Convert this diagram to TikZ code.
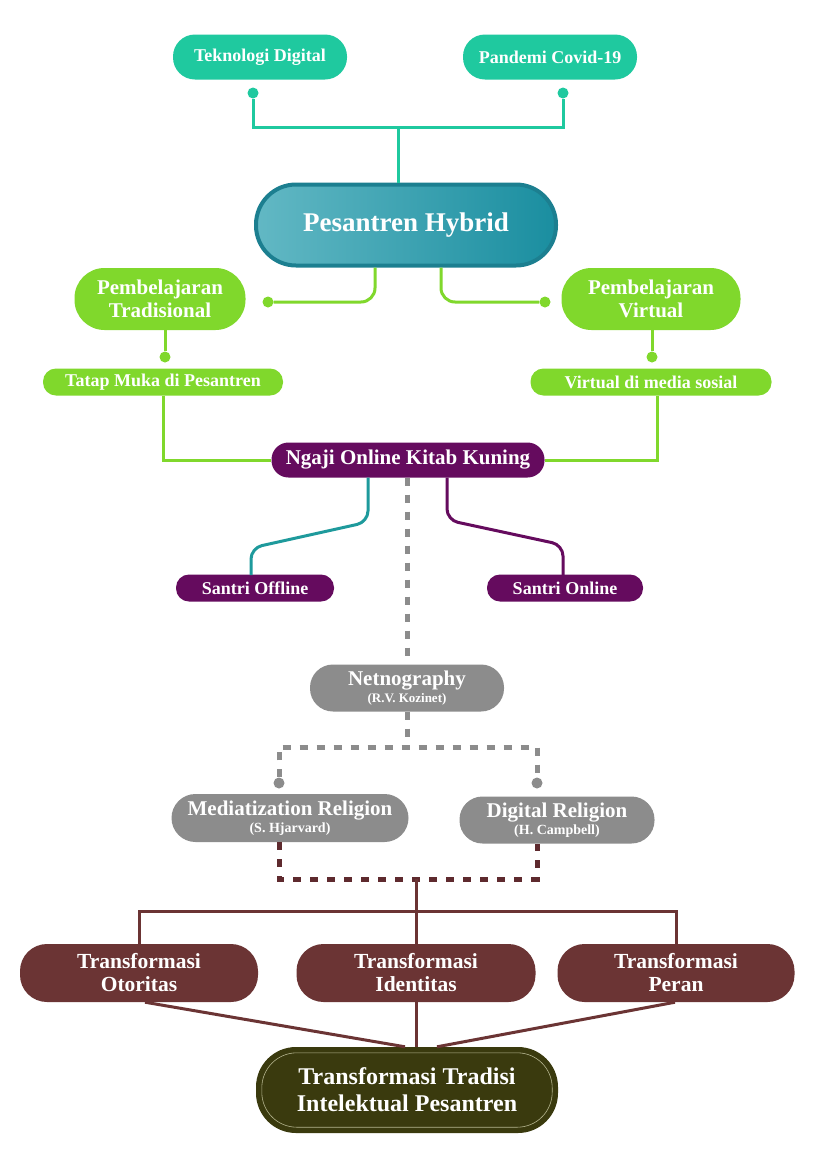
\documentclass[tikz,border=0pt]{standalone}
\usepackage{fontspec}
\setmainfont{Liberation Serif}
\usetikzlibrary{calc}
\definecolor{tealA}{HTML}{1FC99F}
\definecolor{hybL}{HTML}{62B8C4}
\definecolor{hybR}{HTML}{1A8EA0}
\definecolor{hybB}{HTML}{1C7F90}
\definecolor{greenA}{HTML}{80D82C}
\definecolor{purpleA}{HTML}{650B5E}
\definecolor{tealB}{HTML}{1E9A9C}
\definecolor{grayA}{HTML}{8C8C8C}
\definecolor{brownD}{HTML}{5E2A2E}
\definecolor{brownA}{HTML}{6B3434}
\definecolor{oliveA}{HTML}{3A3A0E}
\definecolor{oliveL}{HTML}{B4B48E}
\newcommand{\fsz}[2]{\fontsize{#1}{#2}\selectfont}
\begin{document}
\begin{tikzpicture}[x=1pt,y=-1pt,
  box/.style={inner sep=0pt, align=center, text=white, font=\bfseries},
  dot/.style={circle, inner sep=0pt, minimum size=11pt, fill=#1},
  link/.style={line width=3pt, draw=#1},
  dashlink/.style={line width=5pt, draw=#1, dash pattern=on 8pt off 9pt},
]
\useasboundingbox[fill=white] (0,0) rectangle (812,1157);

% --- causes ---
\node[box, fill=tealA, minimum width=174pt, minimum height=45pt, rounded corners=22pt,
      font=\bfseries\fsz{18}{20}] (tek) at (260,57) {Teknologi Digital};
\node[box, fill=tealA, minimum width=174pt, minimum height=45pt, rounded corners=22pt,
      font=\bfseries\fsz{18}{20}] (pan) at (550,57) {Pandemi Covid-19};
\node[dot=tealA] (dtek) at (253,93) {};
\node[dot=tealA] (dpan) at (563,93) {};
\coordinate (jtop) at (398,127);

% --- hybrid pesantren ---
\node[box, minimum width=300pt, minimum height=81pt, rounded corners=40pt,
      left color=hybL, right color=hybR, draw=hybB, line width=4pt,
      font=\bfseries\fsz{27}{32}] (hyb) at (406,225) {Pesantren Hybrid};

\draw[link=tealA] (dtek) |- (jtop) -| (dpan);
\draw[link=tealA] (jtop) -- (hyb.north -| jtop);

% --- learning modes ---
\node[box, fill=greenA, minimum width=171pt, minimum height=62pt, rounded corners=30pt,
      font=\bfseries\fsz{21}{23}] (ptr) at (160,299) {Pembelajaran\\Tradisional};
\node[box, fill=greenA, minimum width=179pt, minimum height=62pt, rounded corners=30pt,
      font=\bfseries\fsz{21}{23}] (pvi) at (651,299) {Pembelajaran\\Virtual};
\node[dot=greenA] (dptr) at (268,302) {};
\node[dot=greenA] (dpvi) at (545,302) {};
\draw[link=greenA, rounded corners=14pt] ([xshift=-31pt]hyb.south) |- (dptr);
\draw[link=greenA, rounded corners=14pt] ([xshift=35pt]hyb.south) |- (dpvi);

\node[dot=greenA] (dtm) at (165,357) {};
\node[dot=greenA] (dvm) at (652,357) {};
\draw[link=greenA] (dtm) -- (dtm |- ptr.south);
\draw[link=greenA] (dvm) -- (dvm |- pvi.south);

\node[box, fill=greenA, minimum width=240pt, minimum height=27pt, rounded corners=13pt,
      font=\bfseries\fsz{18}{20}] (tm) at (163,382) {Tatap Muka di Pesantren};
\node[box, fill=greenA, minimum width=241pt, minimum height=27pt, rounded corners=13pt,
      font=\bfseries\fsz{18}{20}] (vm) at (651,382) {Virtual di media sosial};

% --- online kitab study ---
\node[box, fill=purpleA, minimum width=273pt, minimum height=35pt, rounded corners=17pt,
      font=\bfseries\fsz{21}{23}] (ng) at (408,460) {Ngaji Online Kitab Kuning};
\draw[link=greenA] (tm.south) |- (ng.west);
\draw[link=greenA] ([xshift=6pt]vm.south) |- (ng.east);

\node[box, fill=purpleA, minimum width=158pt, minimum height=27pt, rounded corners=13pt,
      font=\bfseries\fsz{18}{20}] (so) at (255,588) {Santri Offline};
\node[box, fill=purpleA, minimum width=156pt, minimum height=27pt, rounded corners=13pt,
      font=\bfseries\fsz{18}{20}] (son) at (565,588) {Santri Online};
\draw[link=tealB, rounded corners=11pt] ([xshift=-40pt]ng.south) -- (368,522) -- (251,548) -- (251,575);
\draw[link=purpleA, rounded corners=11pt] ([xshift=39pt]ng.south) -- (447,520) -- (563,545) -- (563,575);

% --- theoretical frame ---
\node[box, fill=grayA, minimum width=194pt, minimum height=47pt, rounded corners=23pt,
      font=\bfseries\fsz{21}{21}] (net) at (407,688)
      {Netnography\\[-4pt]{\fsz{13}{14}(R.V. Kozinet)}};
\draw[dashlink=grayA] (ng.south -| net.north) -- (net.north);

\node[box, fill=grayA, minimum width=237pt, minimum height=48pt, rounded corners=24pt,
      font=\bfseries\fsz{21}{21}] (med) at (290,818)
      {Mediatization Religion\\[-4pt]{\fsz{14}{15}(S. Hjarvard)}};
\node[box, fill=grayA, minimum width=195pt, minimum height=47pt, rounded corners=23pt,
      font=\bfseries\fsz{21}{21}] (dig) at (557,820)
      {Digital Religion\\[-4pt]{\fsz{14}{15}(H. Campbell)}};
\node[dot=grayA] (dmed) at (279,783) {};
\node[dot=grayA] (ddig) at (537,783) {};
\coordinate (jnet) at (407,747);
\draw[dashlink=grayA] (net.south) -- (jnet);
\draw[dashlink=grayA] (dmed) |- (jnet) -| (ddig);

\coordinate (jrel) at (416,879);
\draw[dashlink=brownD] (med.south -| dmed) |- (jrel) -| (dig.south -| ddig);

% --- transformations ---
\node[box, fill=brownA, minimum width=238pt, minimum height=58pt, rounded corners=27pt,
      font=\bfseries\fsz{21.5}{23}] (ot) at (139,973) {Transformasi\\Otoritas};
\node[box, fill=brownA, minimum width=239pt, minimum height=58pt, rounded corners=27pt,
      font=\bfseries\fsz{21.5}{23}] (id) at (416,973) {Transformasi\\Identitas};
\node[box, fill=brownA, minimum width=237pt, minimum height=58pt, rounded corners=27pt,
      font=\bfseries\fsz{21.5}{23}] (pe) at (676,973) {Transformasi\\Peran};
\coordinate (jtr) at (416,911);
\draw[link=brownA] (jrel) -- (id.north);
\draw[link=brownA] (ot.north) |- (jtr) -| (pe.north);

\node[box, fill=oliveA, minimum width=302pt, minimum height=86pt, rounded corners=40pt,
      font=\bfseries\fsz{24}{27}] (fin) at (407,1090)
      {Transformasi Tradisi\\Intelektual Pesantren};
\draw[oliveL, line width=0.6pt, rounded corners=35pt]
  ($(fin.north west)+(6,6)$) rectangle ($(fin.south east)+(-6,-6)$);

\draw[link=brownA] ([xshift=6pt]ot.south) -- ([xshift=-2pt]fin.north);
\draw[link=brownA] (id.south) -- (id.south |- fin.north);
\draw[link=brownA] ([xshift=-1pt]pe.south) -- ([xshift=30pt]fin.north);
\end{tikzpicture}
\end{document}
